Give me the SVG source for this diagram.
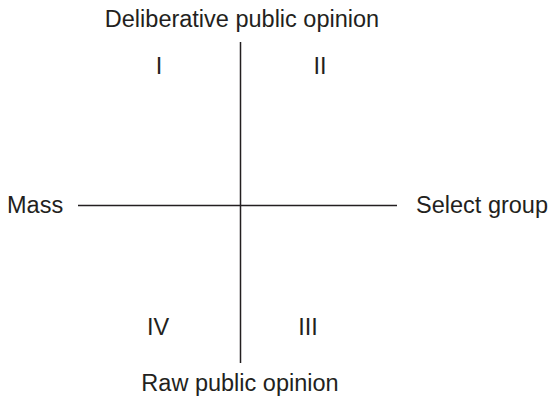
<svg xmlns="http://www.w3.org/2000/svg" width="550" height="399" viewBox="0 0 550 399">
<style>
text{font-family:"Liberation Sans",Arial,sans-serif;font-size:23.5px;fill:#231f20}
.m{text-anchor:middle}
line{stroke:#231f20;stroke-width:1.5}
</style>
<rect width="550" height="399" fill="#fff"/>
<g id="connectors">
<line x1="240.5" y1="42" x2="240.5" y2="363"/>
<line x1="78" y1="205.5" x2="397" y2="205.5"/>
</g>
<g id="top"><text class="m" x="242" y="27">Deliberative public opinion</text></g>
<g id="bottom"><text class="m" x="240" y="391">Raw public opinion</text></g>
<g id="left"><text x="7" y="213">Mass</text></g>
<g id="right"><text x="548" y="213" text-anchor="end">Select group</text></g>
<g id="q1"><text class="m" x="159" y="74">I</text></g>
<g id="q2"><text class="m" x="320" y="74">II</text></g>
<g id="q4"><text class="m" x="158" y="335">IV</text></g>
<g id="q3"><text class="m" x="308" y="335">III</text></g>
</svg>
